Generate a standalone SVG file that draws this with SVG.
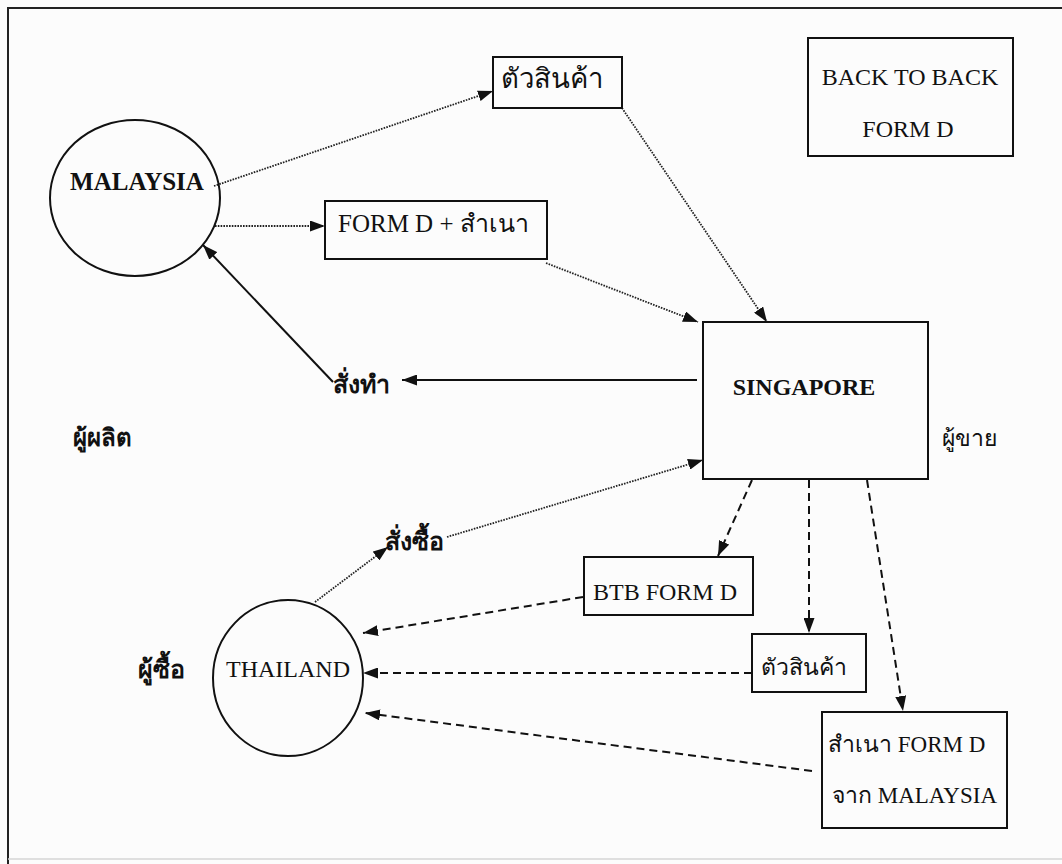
<svg xmlns="http://www.w3.org/2000/svg" width="1062" height="864" viewBox="0 0 1062 864">
  <style>
    .bg { fill: #fcfcfc; }
    .frame { fill: none; stroke: #222; stroke-width: 2; }
    .node { fill: none; stroke: #111; stroke-width: 2; }
    .en { font-family: "Liberation Serif", "Times New Roman", serif; font-size: 24px; fill: #111; }
    .bold { font-weight: bold; }
    .th { font-family: "Liberation Serif", "Noto Sans", sans-serif; font-size: 25px; fill: #111; }
    .dot { fill: none; stroke: #222; stroke-width: 1.8; stroke-dasharray: 1.6 1.2; }
    .dash { fill: none; stroke: #111; stroke-width: 2; stroke-dasharray: 8 5; }
    .solid { fill: none; stroke: #111; stroke-width: 2; }
  </style>
  <defs>
    <marker id="arrow" viewBox="0 0 15 11" refX="15" refY="5.5" markerWidth="15" markerHeight="11" markerUnits="userSpaceOnUse" orient="auto">
      <path d="M0,0 L15,5.5 L0,11 z" fill="#111"/>
    </marker>
  </defs>

  <rect class="bg" x="0" y="0" width="1062" height="864"/>
  <path class="frame" d="M8,864 V8 H1062"/>
  <line x1="8" y1="859" x2="1062" y2="859" stroke="#d6d6d6" stroke-width="1.5"/>

  <!-- connectors -->
  <g id="connectors">
    <line class="dot" x1="214" y1="186" x2="493" y2="91" marker-end="url(#arrow)"/>
    <line class="dot" x1="215" y1="226" x2="325" y2="226" marker-end="url(#arrow)"/>
    <line class="dot" x1="622" y1="108" x2="767" y2="322" marker-end="url(#arrow)"/>
    <line class="dot" x1="546" y1="263" x2="698" y2="322" marker-end="url(#arrow)"/>
    <line class="solid" x1="697" y1="380" x2="402" y2="380" marker-end="url(#arrow)"/>
    <line class="solid" x1="333" y1="382" x2="203" y2="245" marker-end="url(#arrow)"/>
    <line class="dot" x1="315" y1="602" x2="388" y2="547" marker-end="url(#arrow)"/>
    <line class="dot" x1="447" y1="537" x2="703" y2="460" marker-end="url(#arrow)"/>
    <line class="dash" x1="752" y1="480" x2="718" y2="556" marker-end="url(#arrow)"/>
    <line class="dash" x1="809" y1="480" x2="809" y2="633" marker-end="url(#arrow)"/>
    <line class="dash" x1="867" y1="480" x2="903" y2="711" marker-end="url(#arrow)"/>
    <line class="dash" x1="583" y1="597" x2="363" y2="633" marker-end="url(#arrow)"/>
    <line class="dash" x1="752" y1="673" x2="363" y2="673" marker-end="url(#arrow)"/>
    <line class="dash" x1="812" y1="771" x2="365" y2="713" marker-end="url(#arrow)"/>
  </g>

  <g id="malaysia">
    <ellipse class="node" cx="135" cy="198" rx="85" ry="78"/>
    <text class="en bold" x="137" y="190" text-anchor="middle" style="font-size:25px">MALAYSIA</text>
  </g>

  <g id="goods-top">
    <rect class="node" x="493" y="57" width="129" height="51"/>
    <text class="th" x="501" y="88" style="font-size:27.5px">ตัวสินค้า</text>
  </g>

  <g id="formd-copy">
    <rect class="node" x="325" y="201" width="222" height="58"/>
    <text class="th" x="338" y="232">FORM D + สำเนา</text>
  </g>

  <g id="back-to-back">
    <rect class="node" x="808" y="38" width="205" height="118"/>
    <text class="en" x="910" y="85" text-anchor="middle">BACK TO BACK</text>
    <text class="en" x="908" y="137" text-anchor="middle">FORM D</text>
  </g>

  <g id="singapore">
    <rect class="node" x="703" y="322" width="225" height="157"/>
    <text class="en bold" x="804" y="395" text-anchor="middle">SINGAPORE</text>
  </g>

  <g id="order-make">
    <text class="th bold" x="333" y="393">สั่งทำ</text>
  </g>

  <g id="producer">
    <text class="th bold" x="73" y="446" style="font-size:24px">ผู้ผลิต</text>
  </g>

  <g id="seller">
    <text class="th" x="942" y="446" style="font-size:23px">ผู้ขาย</text>
  </g>

  <g id="order-buy">
    <text class="th bold" x="385" y="550">สั่งซื้อ</text>
  </g>

  <g id="btb-formd">
    <rect class="node" x="584" y="557" width="169" height="58"/>
    <text class="en" x="593" y="600">BTB FORM D</text>
  </g>

  <g id="goods-bottom">
    <rect class="node" x="752" y="634" width="114" height="58"/>
    <text class="th" x="761" y="675" style="font-size:23px">ตัวสินค้า</text>
  </g>

  <g id="copy-formd">
    <rect class="node" x="822" y="712" width="185" height="116"/>
    <text class="th" x="828" y="752" style="font-size:23px">สำเนา FORM D</text>
    <text class="th" x="832" y="803" style="font-size:23px">จาก MALAYSIA</text>
  </g>

  <g id="thailand">
    <ellipse class="node" cx="288" cy="678" rx="75" ry="78"/>
    <text class="en" x="288" y="677" text-anchor="middle">THAILAND</text>
  </g>

  <g id="buyer">
    <text class="th bold" x="138" y="678">ผู้ซื้อ</text>
  </g>
</svg>
